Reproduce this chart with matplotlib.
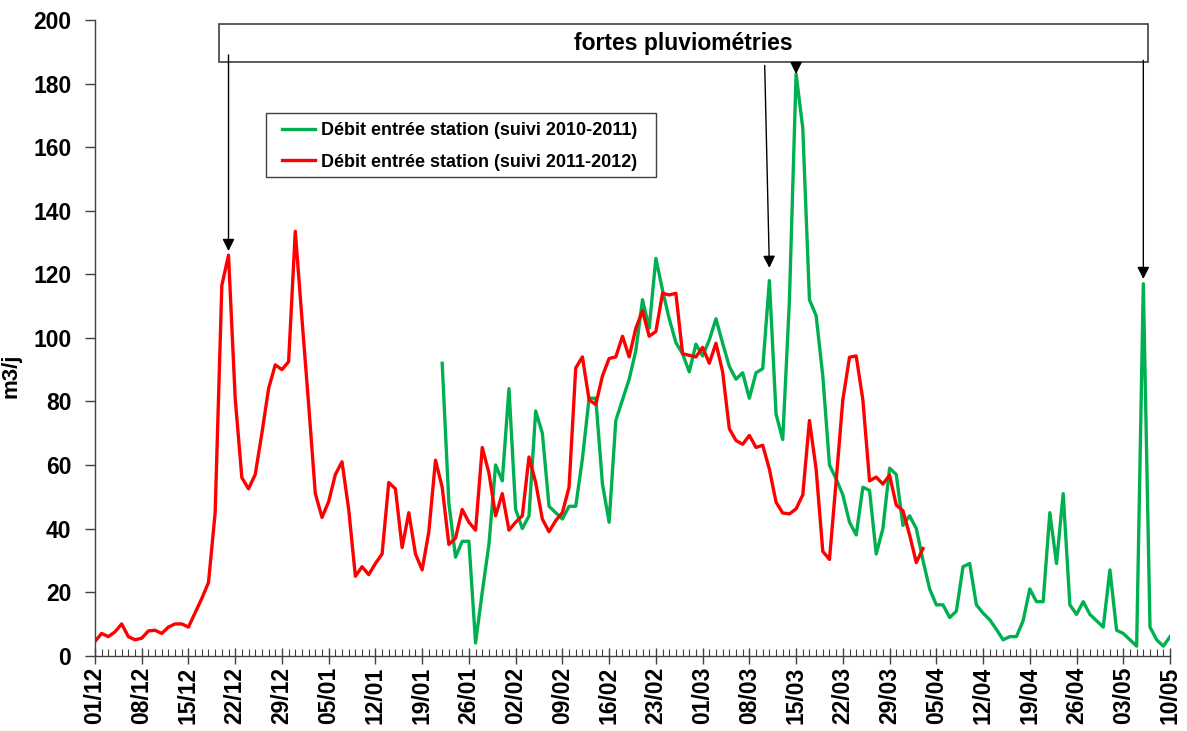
import numpy as np
import pandas as pd
import matplotlib
matplotlib.use('Agg')
import matplotlib.pyplot as plt
import matplotlib.dates as mdates
from matplotlib.patches import Rectangle

plt.rcParams['font.family'] = ['Liberation Sans', 'DejaVu Sans']
plt.rcParams['font.weight'] = 'bold'

# débits journaliers en entrée de station (m3/j), axe commun du 01/12 au 10/05
debut_2011_2012 = '2011-12-01'
debit_2011_2012 = [
    4.5, 7, 6, 7.5, 10, 6, 5, 5.5, 7.8, 8, 7, 9, 10, 10, 9, 13.5, 18, 23, 45, 116.5,
    126, 81, 56, 52.5, 57, 70, 84, 91.5, 90, 92.5, 133.5, 106, 79, 51, 43.5, 48.5, 57, 61, 46, 25,
    28, 25.5, 29, 32, 54.5, 52.5, 34, 45, 32, 27, 39, 61.5, 53, 35, 37, 46, 42, 39.5, 65.5, 57.5,
    44, 51, 39.5, 42, 44, 62.5, 54.5, 43, 39, 42.5, 45, 53, 90.5, 94, 80.5, 79, 88, 93.5, 94, 100.5,
    94, 103, 108.5, 100.5, 102, 114, 113.5, 114, 95, 94.5, 94, 97, 92, 98.3, 89.3, 71.4, 67.7, 66.5, 69.3, 65.5,
    66.2, 58.7, 48.3, 44.9, 44.6, 46.2, 50.6, 74, 58.7, 32.8, 30.3, 55, 80.5, 93.9, 94.3, 80.5, 55, 56.2, 54, 56.8,
    47.4, 45.6, 38, 29.3, 33.7,
]

# suivi précédent, calé sur les mêmes jours/mois
debut_2010_2011 = '2012-01-22'
debit_2010_2011 = [
    92, 48, 31, 36, 36, 4, 20, 35, 60, 55, 84, 46, 40, 44, 77, 70, 47, 45, 43, 47,
    47, 62, 81, 81, 54, 42, 74, 80.5, 87, 96, 112, 103, 125, 115, 106, 98.5, 95, 89.3, 98, 94.3,
    99.3, 106, 98.3, 91, 87, 89, 81, 89, 90.3, 118, 76, 68, 111.7, 183, 166, 112, 107, 88, 60, 55.6,
    50.6, 42, 38, 53, 52, 32, 40, 59, 57, 41, 44, 40, 30, 21, 16, 16, 12, 14, 28, 29,
    16, 13.4, 11.3, 8.3, 5, 6, 6, 11, 21, 17, 17, 45, 29, 51, 16, 13, 17, 13, 11, 9,
    27, 8, 7, 5, 3, 117, 9, 5, 3, 6,
]

# épisodes de fortes pluviométries : (suivi, date pointée)
episodes = [
    ('2011-2012', '2011-12-21'),
    ('2010-2011', '2012-03-11'),
    ('2010-2011', '2012-03-15'),
    ('2010-2011', '2012-05-06'),
]

debut_axe, fin_axe = '2011-12-01', '2012-05-10'

jours_12 = pd.date_range(debut_2011_2012, periods=len(debit_2011_2012), freq='D')
jours_11 = pd.date_range(debut_2010_2011, periods=len(debit_2010_2011), freq='D')
series = {
    '2011-2012': pd.Series(debit_2011_2012, index=jours_12),
    '2010-2011': pd.Series(debit_2010_2011, index=jours_11),
}

vert = '#00B050'
rouge = '#FF0000'
gris = '#404040'

fig = plt.figure(figsize=(11.87, 7.31), dpi=100)
ax = fig.add_axes([0.080, 0.103, 0.9057, 0.8697])

ax.plot(jours_11, debit_2010_2011, color=vert, lw=2.4,
        label='Débit entrée station (suivi 2010-2011)')
ax.plot(jours_12, debit_2011_2012, color=rouge, lw=2.4,
        label='Débit entrée station (suivi 2011-2012)')

ax.set_xlim(pd.Timestamp(debut_axe), pd.Timestamp(fin_axe))
ax.set_ylim(0, 200)
ax.set_yticks(np.arange(0, 201, 20))

graduations = pd.date_range(debut_axe, fin_axe, freq='7D')
ax.set_xticks(graduations)
ax.set_xticklabels([d.strftime('%d/%m') for d in graduations], rotation=90,
                   fontsize=16.5, fontweight='bold')
ax.xaxis.set_minor_locator(mdates.DayLocator())
for lab in ax.get_yticklabels():
    lab.set_fontsize(16.5)
    lab.set_fontweight('bold')

ax.tick_params(axis='x', which='major', direction='inout', length=12, width=1,
               color=gris, pad=2)
ax.tick_params(axis='x', which='minor', direction='in', length=5, width=0.8,
               color=gris)
ax.tick_params(axis='y', which='major', direction='out', length=7, width=1,
               color=gris, pad=10)

for cote in ['top', 'right']:
    ax.spines[cote].set_visible(False)
for cote in ['left', 'bottom']:
    ax.spines[cote].set_color(gris)
    ax.spines[cote].set_linewidth(1)

ax.set_ylabel('m3/j', fontsize=16, fontweight='bold')
ax.yaxis.set_label_coords(-0.068, 0.44)

# cadre "fortes pluviométries"
x0 = mdates.date2num(pd.Timestamp('2011-12-19 14:00'))
x1 = mdates.date2num(pd.Timestamp('2012-05-06 17:00'))
ax.add_patch(Rectangle((x0, 186.7), x1 - x0, 11.9, fill=False,
                       edgecolor=gris, lw=1.2, zorder=4, clip_on=False))
ax.text((x0 + x1) / 2, 192.6, 'fortes pluviométries', ha='center', va='center',
        fontsize=16.5, fontweight='bold')

# flèches vers les pics de débit
departs = [(0.0, 189.0), (-0.7, 185.7), (0.0, 186.7), (0.0, 187.3)]
ecarts = [1.3, 4.0, 0.0, 1.5]
for (suivi, jour), (dx, y_dep), ecart in zip(episodes, departs, ecarts):
    t = pd.Timestamp(jour)
    x = mdates.date2num(t)
    y = series[suivi][t] + ecart
    ax.annotate('', xy=(x, y), xytext=(x + dx, y_dep),
                arrowprops=dict(arrowstyle='-|>', color='black', lw=1,
                                mutation_scale=18, shrinkA=0, shrinkB=0),
                zorder=5)

# légende sans cadre + cadre dessiné à part (marges horizontales plus larges)
leg = ax.legend(loc='upper left', bbox_to_anchor=(0.174, 0.839), borderaxespad=0,
                fontsize=13, frameon=False, handlelength=1.85, handletextpad=0.33,
                labelspacing=0.8, borderpad=0)
for t in leg.get_texts():
    t.set_fontweight('bold')
for ligne in leg.get_lines():
    ligne.set_linewidth(2.4)
ax.add_patch(Rectangle((0.159, 0.753), 0.363, 0.101, transform=ax.transAxes,
                       fill=True, facecolor='white', edgecolor=gris, lw=1,
                       zorder=3))
leg.set_zorder(6)

fig.savefig('out.png', dpi=100)
